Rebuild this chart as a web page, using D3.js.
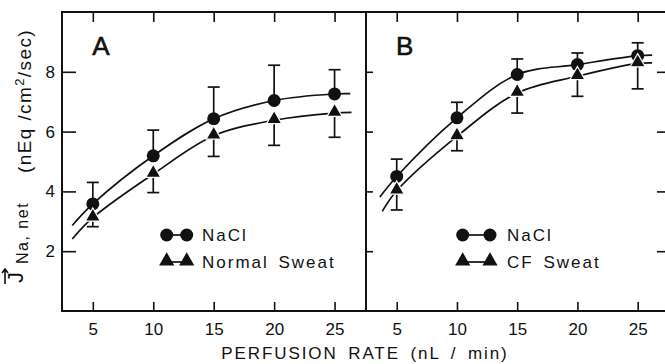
<!DOCTYPE html>
<html><head><meta charset="utf-8">
<script src="https://cdn.jsdelivr.net/npm/d3@7"></script>
<style>
body{margin:0;background:#fff}
svg{display:block}
text{font-family:"Liberation Sans",Arial,sans-serif;fill:#111}
</style>
</head><body>
<svg id="c" width="665" height="364"></svg>
<script>
// ---- data ----
const xTicks = [5, 10, 15, 20, 25];
const yTicks = [2, 4, 6, 8];
const rates = [5, 10, 15, 20, 25];
// Panel A
const aNaCl   = [3.58, 5.19, 6.43, 7.04, 7.26];
const aNaClHi = [4.30, 6.05, 7.49, 8.22, 8.07];
const aSweat   = [3.12, 4.58, 5.86, 6.38, 6.62];
const aSweatLo = [2.82, 3.96, 5.17, 5.54, 5.81];
// Panel B
const bNaCl   = [4.50, 6.46, 7.91, 8.24, 8.54];
const bNaClHi = [5.08, 6.98, 8.43, 8.63, 8.97];
const bCF   = [4.02, 5.84, 7.29, 7.85, 8.28];
const bCFLo = [3.38, 5.36, 6.62, 7.18, 7.43];
// fitted-curve end points [start, end]
const aNaClEnds  = [[3.3, 2.86], [26.3, 7.27]];
const aSweatEnds = [[3.3, 2.41], [26.4, 6.64]];
const bNaClEnds  = [[3.6, 3.81], [26.2, 8.56]];
const bCFEnds    = [[3.8, 3.33], [26.2, 8.30]];
const panelLabels = ["A", "B"];
const legendA = ["NaCl", "Normal Sweat"];
const legendB = ["NaCl", "CF Sweat"];
const xTitle = "PERFUSION RATE (nL / min)";

// ---- layout ----
const svg = d3.select("#c");
const yTop = 12, yBottom = 311;
const y = d3.scaleLinear().domain([0, 10]).range([yBottom, yTop]);
const xDom = [2.45, 27.6];
const panels = [
  {x0: 62, x1: 366, label: panelLabels[0], circ: aNaCl, hi: aNaClHi, tri: aSweat, lo: aSweatLo,
   cEnds: aNaClEnds, tEnds: aSweatEnds, legend: legendA},
  {x0: 366, x1: 669, label: panelLabels[1], circ: bNaCl, hi: bNaClHi, tri: bCF, lo: bCFLo,
   cEnds: bNaClEnds, tEnds: bCFEnds, legend: legendB}
];
const ink = "#111";
const lw = 1.7;

panels.forEach((p, i) => {
  const x = d3.scaleLinear().domain(xDom).range([p.x0, p.x1]);
  const g = svg.append("g");

  // bottom axis (ticks inward, labels below)
  const gb = g.append("g").attr("transform", `translate(0,${yBottom})`)
    .call(d3.axisBottom(x).tickValues(xTicks).tickSize(-9).tickPadding(12));
  gb.select(".domain").remove();
  gb.selectAll("line").attr("stroke", ink).attr("stroke-width", 1.6);
  gb.selectAll("text").attr("font-size", 17).attr("fill", ink)
    .attr("font-family", '"Liberation Sans",Arial,sans-serif');

  // top axis ticks
  const gt = g.append("g").attr("transform", `translate(0,${yTop})`)
    .call(d3.axisTop(x).tickValues(xTicks).tickSize(-10).tickFormat(""));
  gt.select(".domain").remove();
  gt.selectAll("line").attr("stroke", ink).attr("stroke-width", 1.6);

  // left-side ticks of the panel
  const ga = g.append("g").attr("transform", `translate(${p.x0},0)`)
    .call(d3.axisLeft(y).tickValues(yTicks).tickSize(i === 0 ? -14 : -7).tickPadding(7)
      .tickFormat(i === 0 ? d3.format("d") : ""));
  ga.select(".domain").remove();
  ga.selectAll("line").attr("stroke", ink).attr("stroke-width", 1.6);
  ga.selectAll("text").attr("font-size", 17).attr("fill", ink)
    .attr("font-family", '"Liberation Sans",Arial,sans-serif');

  if (i === 1) {
    const gr = g.append("g").attr("transform", `translate(${p.x1},0)`)
      .call(d3.axisRight(y).tickValues(yTicks).tickSize(-12).tickFormat(""));
    gr.select(".domain").remove();
    gr.selectAll("line").attr("stroke", ink).attr("stroke-width", 1.6);
  }

  // frame
  g.append("rect").attr("x", p.x0).attr("y", yTop).attr("width", p.x1 - p.x0).attr("height", yBottom - yTop)
    .attr("fill", "none").attr("stroke", ink).attr("stroke-width", 2);

  // panel letter
  g.append("text").attr("x", x(4.95)).attr("y", 55).attr("font-size", 26)
    .attr("stroke", ink).attr("stroke-width", 0.6).text(p.label);

  // fitted curves
  const line = d3.line().x(d => x(d[0])).y(d => y(d[1])).curve(d3.curveCatmullRom.alpha(0.5));
  const cPts = [p.cEnds[0], ...rates.map((r, k) => [r, p.circ[k]]), p.cEnds[1]];
  const tPts = [p.tEnds[0], ...rates.map((r, k) => [r, p.tri[k]]), p.tEnds[1]];
  g.append("path").attr("d", line(cPts)).attr("fill", "none").attr("stroke", ink).attr("stroke-width", lw);
  g.append("path").attr("d", line(tPts)).attr("fill", "none").attr("stroke", ink).attr("stroke-width", lw);

  // error bars
  const cap = 6;
  rates.forEach((r, k) => {
    const cx = x(r);
    g.append("line").attr("x1", cx).attr("x2", cx).attr("y1", y(p.circ[k])).attr("y2", y(p.hi[k]))
      .attr("stroke", ink).attr("stroke-width", lw);
    g.append("line").attr("x1", cx - cap).attr("x2", cx + cap).attr("y1", y(p.hi[k])).attr("y2", y(p.hi[k]))
      .attr("stroke", ink).attr("stroke-width", lw);
    g.append("line").attr("x1", cx).attr("x2", cx).attr("y1", y(p.tri[k])).attr("y2", y(p.lo[k]))
      .attr("stroke", ink).attr("stroke-width", lw);
    g.append("line").attr("x1", cx - cap).attr("x2", cx + cap).attr("y1", y(p.lo[k])).attr("y2", y(p.lo[k]))
      .attr("stroke", ink).attr("stroke-width", lw);
  });

  // markers
  const triSym = d3.symbol(d3.symbolTriangle, 100);
  g.selectAll(".c").data(rates).join("circle")
    .attr("cx", r => x(r)).attr("cy", (r, k) => y(p.circ[k])).attr("r", 6.5).attr("fill", ink);
  g.selectAll(".t").data(rates).join("path")
    .attr("d", triSym).attr("transform", (r, k) => `translate(${x(r)},${y(p.tri[k]) - 1})`)
    .attr("fill", ink).attr("stroke", "#fff").attr("stroke-width", 1.2);

  // legend
  const lx = i === 0 ? 166.7 : 462.7, lx2 = lx + (i === 0 ? 20 : 27.3), tx = i === 0 ? 202 : 507;
  const rows = [235, 262];
  g.append("line").attr("x1", lx).attr("x2", lx2).attr("y1", rows[0]).attr("y2", rows[0]).attr("stroke", ink).attr("stroke-width", lw);
  [lx, lx2].forEach(cx => g.append("circle").attr("cx", cx).attr("cy", rows[0]).attr("r", 6.5).attr("fill", ink));
  g.append("line").attr("x1", lx).attr("x2", lx2).attr("y1", rows[1]).attr("y2", rows[1]).attr("stroke", ink).attr("stroke-width", lw);
  [lx, lx2].forEach(cx => g.append("path").attr("d", triSym).attr("transform", `translate(${cx},${rows[1] - 1})`).attr("fill", ink));
  p.legend.forEach((t, k) => {
    g.append("text").attr("x", tx).attr("y", rows[k] + 6).attr("font-size", 17)
      .attr("letter-spacing", 2).attr("word-spacing", 3).text(t);
  });
});

// x-axis title
svg.append("text").attr("x", 365).attr("y", 359).attr("text-anchor", "middle")
  .attr("font-size", 17).attr("letter-spacing", 1.9).attr("word-spacing", 4).text(xTitle);

// y-axis title (rotated)
const yl = svg.append("g").attr("transform", "rotate(-90)");
yl.append("text").attr("x", -283).attr("y", 23).attr("font-size", 22).text("J");
yl.append("path").attr("d", "M-284,5 L-269,5 M-273,2 L-269,5 L-273,8")
  .attr("fill", "none").attr("stroke", ink).attr("stroke-width", 1.6);
yl.append("text").attr("x", -264).attr("y", 28).attr("font-size", 16)
  .attr("letter-spacing", 1.5).text("Na, net");
const unit = yl.append("text").attr("x", -173).attr("y", 31).attr("font-size", 19).attr("letter-spacing", 1.4);
unit.append("tspan").text("(nEq /cm");
unit.append("tspan").attr("dy", -7).attr("font-size", 13).text("2");
unit.append("tspan").attr("dy", 7).text("/sec)");
</script>
</body></html>
